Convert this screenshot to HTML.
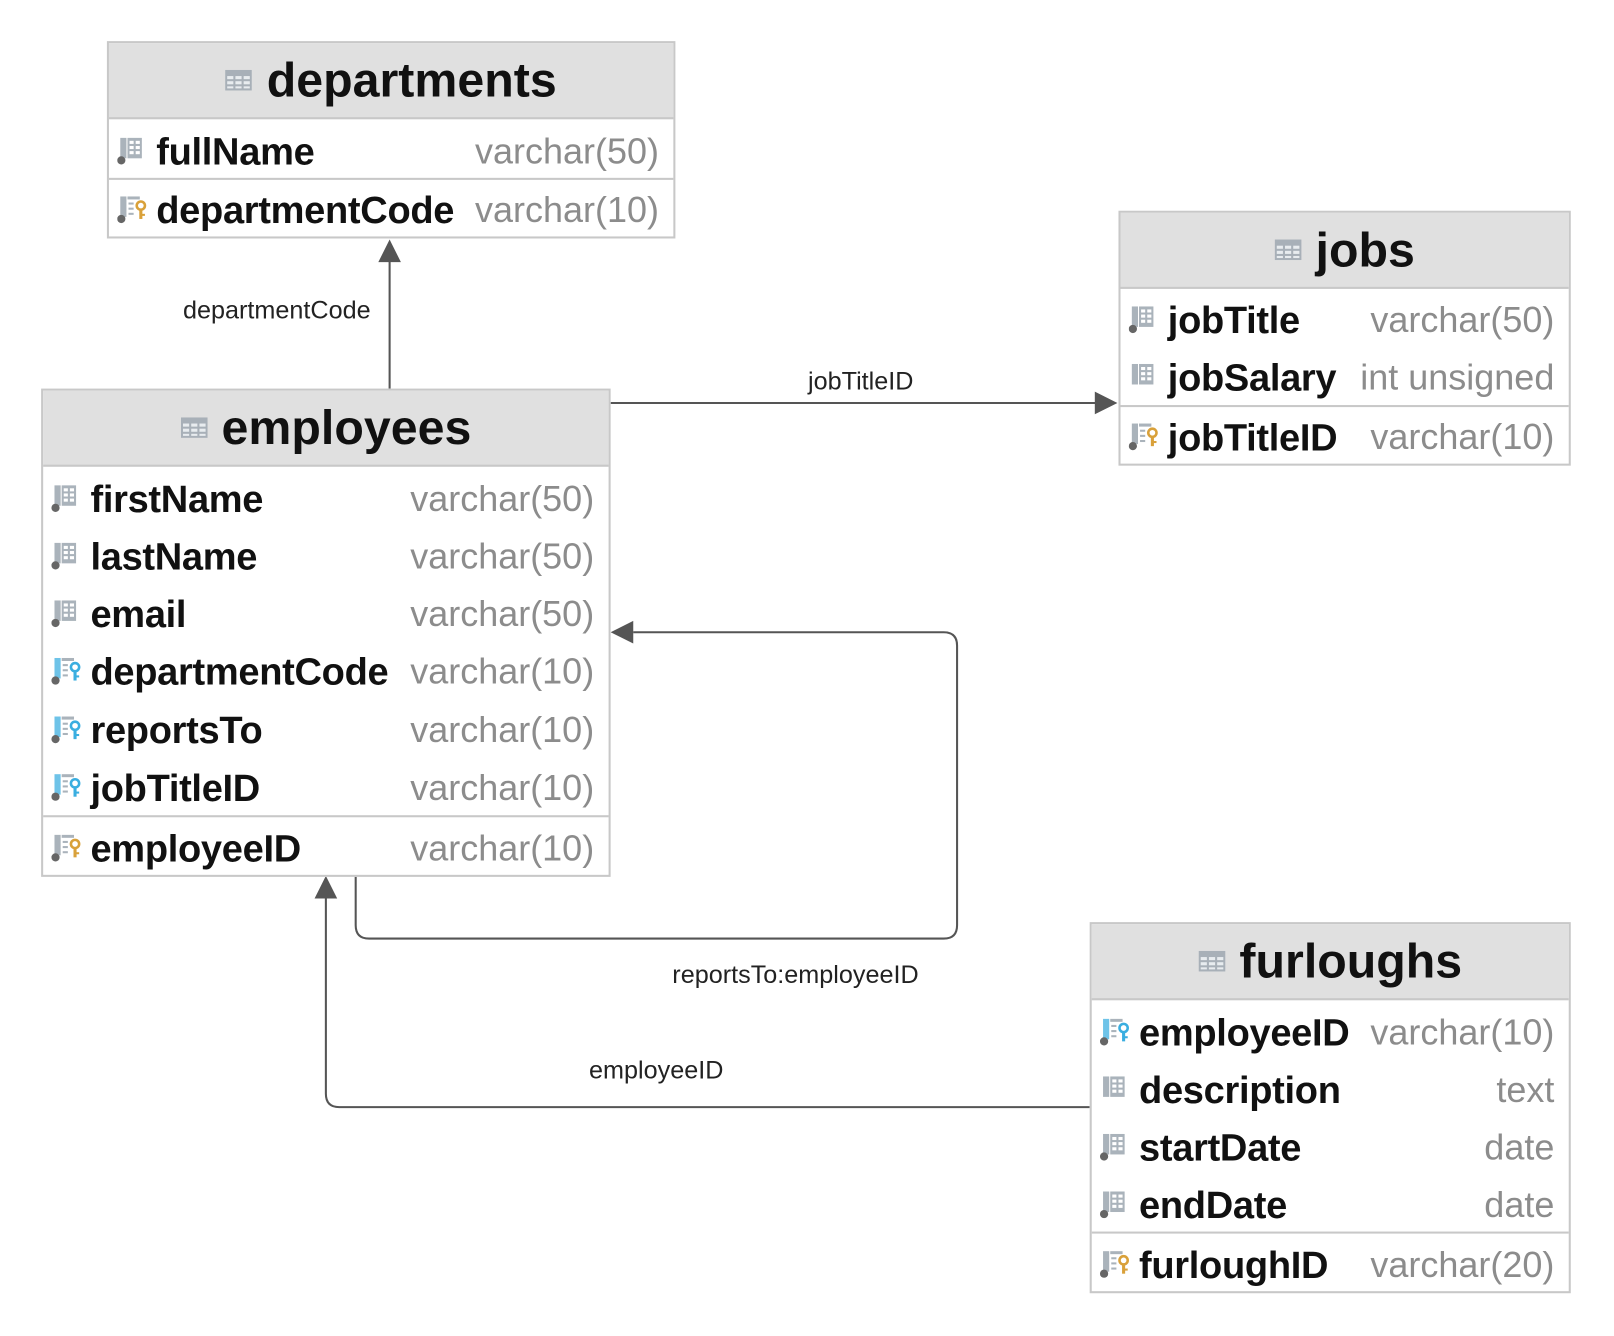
<!DOCTYPE html>
<html><head><meta charset="utf-8"><style>
body{margin:0;background:#fff;width:1614px;height:1336px;overflow:hidden}
#c{position:absolute;left:0;top:0;width:1570px;height:1300px;transform:scale(1.028);transform-origin:0 0;font-family:"Liberation Sans",sans-serif}
.t{position:absolute;border:2px solid #c8c8c8;background:#fff;box-sizing:border-box}
.h{position:absolute;left:0;right:0;top:0;height:72px;background:#e0e0e0;border-bottom:2px solid #c8c8c8;text-align:center;font-weight:bold;font-size:47px;line-height:72px;color:#111}
.h svg{vertical-align:middle;margin-right:14px;position:relative;top:-4px}
.r{position:absolute;left:8px;right:14px;height:56px;line-height:56px;font-size:35px}
.r b{position:absolute;left:38px;color:#111;font-size:37px;letter-spacing:-0.3px}
.r i{position:absolute;right:0;font-style:normal;color:#8c8c8c;font-weight:normal}
.r svg{position:absolute;left:0;top:14px}
.d{position:absolute;left:0;right:0;height:2px;background:#c8c8c8}
.lb{position:absolute;font-size:24.5px;color:#222}
</style></head><body><div id="c">
<svg width="0" height="0" style="position:absolute"><defs>
<g id="tb"><rect x="0" y="0" width="26" height="20" fill="#a8b0b8"/><g fill="#e8ecef"><rect x="2" y="6" width="6" height="3"/><rect x="10" y="6" width="6" height="3"/><rect x="18" y="6" width="6" height="3"/><rect x="2" y="11" width="6" height="3"/><rect x="10" y="11" width="6" height="3"/><rect x="18" y="11" width="6" height="3"/><rect x="2" y="16" width="6" height="2"/><rect x="10" y="16" width="6" height="2"/><rect x="18" y="16" width="6" height="2"/></g></g>
<g id="col"><rect x="3" y="0" width="6" height="20" fill="#aab3bb"/><rect x="10" y="0" width="14" height="20" fill="#aab3bb"/><g fill="#fff"><rect x="12" y="3" width="4" height="3"/><rect x="18" y="3" width="4" height="3"/><rect x="12" y="8" width="4" height="3"/><rect x="18" y="8" width="4" height="3"/><rect x="12" y="13" width="4" height="3"/><rect x="18" y="13" width="4" height="3"/></g><circle cx="4" cy="22" r="4" fill="#666"/></g>
<g id="pk"><rect x="3" y="0" width="6" height="20" fill="#aab3bb"/><rect x="10" y="0" width="12" height="3" fill="#aab3bb"/><rect x="11" y="6" width="5" height="2" fill="#aab3bb"/><rect x="11" y="11" width="5" height="2" fill="#aab3bb"/><rect x="11" y="16" width="5" height="2" fill="#aab3bb"/><circle cx="23" cy="9" r="4" fill="none" stroke="#d9a13a" stroke-width="2.5"/><rect x="21.5" y="12" width="3" height="10" fill="#d9a13a"/><rect x="24" y="17" width="3" height="2" fill="#d9a13a"/><circle cx="4" cy="22" r="4" fill="#666"/></g>
<g id="fk"><rect x="3" y="0" width="6" height="20" fill="#6ec3e8"/><rect x="10" y="0" width="12" height="3" fill="#aab3bb"/><rect x="11" y="6" width="5" height="2" fill="#aab3bb"/><rect x="11" y="11" width="5" height="2" fill="#aab3bb"/><rect x="11" y="16" width="5" height="2" fill="#aab3bb"/><circle cx="23" cy="9" r="4" fill="none" stroke="#3aaee0" stroke-width="2.5"/><rect x="21.5" y="12" width="3" height="10" fill="#3aaee0"/><rect x="24" y="17" width="3" height="2" fill="#3aaee0"/><circle cx="4" cy="22" r="4" fill="#666"/></g>
<g id="col2"><rect x="3" y="0" width="6" height="20" fill="#aab3bb"/><rect x="10" y="0" width="14" height="20" fill="#aab3bb"/><g fill="#fff"><rect x="12" y="3" width="4" height="3"/><rect x="18" y="3" width="4" height="3"/><rect x="12" y="8" width="4" height="3"/><rect x="18" y="8" width="4" height="3"/><rect x="12" y="13" width="4" height="3"/><rect x="18" y="13" width="4" height="3"/></g></g>
</defs></svg>

<svg style="position:absolute;left:0;top:0" width="1570" height="1300">
<g stroke="#555" stroke-width="2" fill="none">
<line x1="379" y1="378" x2="379" y2="252"/>
<line x1="594" y1="392" x2="1066" y2="392"/>
<path d="M346 852 V900 Q346 913 359 913 H918 Q931 913 931 900 V628 Q931 615 918 615 H616"/>
<path d="M1060 1077 H330 Q317 1077 317 1064 V874"/>
</g>
<g fill="#555">
<polygon points="379,233 368,255 390,255"/>
<polygon points="1087,392 1065,381 1065,403"/>
<polygon points="594,615 616,604 616,626"/>
<polygon points="317,852 306,874 328,874"/>
</g></svg>
<div class="lb" style="left:178px;top:289px">departmentCode</div>
<div class="lb" style="left:786px;top:358px">jobTitleID</div>
<div class="lb" style="left:654px;top:935px">reportsTo:employeeID</div>
<div class="lb" style="left:573px;top:1028px">employeeID</div>

<div class="t" style="left:104px;top:40px;width:553px;height:192px">
<div class="h"><svg width="26" height="20"><use href="#tb"/></svg>departments</div>
<div class="r" style="top:78px"><svg width="30" height="28"><use href="#col"/></svg><b>fullName</b><i>varchar(50)</i></div>
<div class="d" style="top:131px"></div>
<div class="r" style="top:135px"><svg width="30" height="28"><use href="#pk"/></svg><b>departmentCode</b><i>varchar(10)</i></div>
</div>

<div class="t" style="left:1088px;top:205px;width:440px;height:248px">
<div class="h"><svg width="26" height="20"><use href="#tb"/></svg>jobs</div>
<div class="r" style="top:77px"><svg width="30" height="28"><use href="#col"/></svg><b>jobTitle</b><i>varchar(50)</i></div>
<div class="r" style="top:133px"><svg width="30" height="28"><use href="#col2"/></svg><b>jobSalary</b><i>int unsigned</i></div>
<div class="d" style="top:187px"></div>
<div class="r" style="top:191px"><svg width="30" height="28"><use href="#pk"/></svg><b>jobTitleID</b><i>varchar(10)</i></div>
</div>

<div class="t" style="left:40px;top:378px;width:554px;height:475px">
<div class="h"><svg width="26" height="20"><use href="#tb"/></svg>employees</div>
<div class="r" style="top:78px"><svg width="30" height="28"><use href="#col"/></svg><b>firstName</b><i>varchar(50)</i></div>
<div class="r" style="top:134px"><svg width="30" height="28"><use href="#col"/></svg><b>lastName</b><i>varchar(50)</i></div>
<div class="r" style="top:190px"><svg width="30" height="28"><use href="#col"/></svg><b>email</b><i>varchar(50)</i></div>
<div class="r" style="top:246px"><svg width="30" height="28"><use href="#fk"/></svg><b>departmentCode</b><i>varchar(10)</i></div>
<div class="r" style="top:303px"><svg width="30" height="28"><use href="#fk"/></svg><b>reportsTo</b><i>varchar(10)</i></div>
<div class="r" style="top:359px"><svg width="30" height="28"><use href="#fk"/></svg><b>jobTitleID</b><i>varchar(10)</i></div>
<div class="d" style="top:413px"></div>
<div class="r" style="top:418px"><svg width="30" height="28"><use href="#pk"/></svg><b>employeeID</b><i>varchar(10)</i></div>
</div>

<div class="t" style="left:1060px;top:897px;width:468px;height:361px">
<div class="h"><svg width="26" height="20"><use href="#tb"/></svg>furloughs</div>
<div class="r" style="top:78px"><svg width="30" height="28"><use href="#fk"/></svg><b>employeeID</b><i>varchar(10)</i></div>
<div class="r" style="top:134px"><svg width="30" height="28"><use href="#col2"/></svg><b>description</b><i>text</i></div>
<div class="r" style="top:190px"><svg width="30" height="28"><use href="#col"/></svg><b>startDate</b><i>date</i></div>
<div class="r" style="top:246px"><svg width="30" height="28"><use href="#col"/></svg><b>endDate</b><i>date</i></div>
<div class="d" style="top:299px"></div>
<div class="r" style="top:304px"><svg width="30" height="28"><use href="#pk"/></svg><b>furloughID</b><i>varchar(20)</i></div>
</div>
</div></body></html>
